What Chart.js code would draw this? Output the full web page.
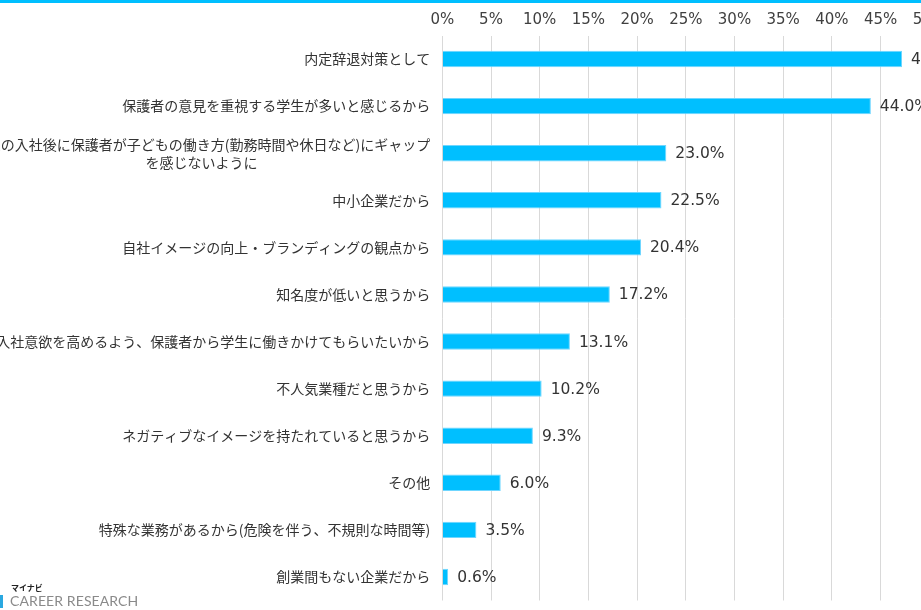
<!DOCTYPE html>
<html><head><meta charset="utf-8">
<script src="https://cdn.jsdelivr.net/npm/chart.js@4"></script>
<style>
html,body{margin:0;padding:0;width:921px;height:610px;overflow:hidden;background:#fff;position:relative;}
#topline{position:absolute;left:0;top:0;width:921px;height:3px;background:#00BFFF;}
#wrap{position:absolute;left:-130px;top:0;width:1100px;height:610px;}
#logo{position:absolute;left:0;top:583px;width:150px;height:27px;}
#logo .mn{position:absolute;left:11px;top:0;font:bold 8px "Noto Sans CJK JP";color:#222;line-height:10px;}
#logo .cr{position:absolute;left:10px;top:10px;font:14px "Lato";color:#8a8a8a;line-height:16px;letter-spacing:0.1px;}
#logo .ic{position:absolute;left:0;top:12px;width:3px;height:13px;background:#2aa8e0;}
</style></head>
<body>
<div id="topline"></div>
<div id="wrap"><canvas id="c" width="1100" height="610"></canvas></div>
<div id="logo"><div class="mn">マイナビ</div><div class="ic"></div><div class="cr">CAREER RESEARCH</div></div>
<script>
const categories = [
  "内定辞退対策として",
  "保護者の意見を重視する学生が多いと感じるから",
  ["学生の入社後に保護者が子どもの働き方(勤務時間や休日など)にギャップ","を感じないように"],
  "中小企業だから",
  "自社イメージの向上・ブランディングの観点から",
  "知名度が低いと思うから",
  "学生の入社意欲を高めるよう、保護者から学生に働きかけてもらいたいから",
  "不人気業種だと思うから",
  "ネガティブなイメージを持たれていると思うから",
  "その他",
  "特殊な業務があるから(危険を伴う、不規則な時間等)",
  "創業間もない企業だから"
];
const values = [47.2, 44.0, 23.0, 22.5, 20.4, 17.2, 13.1, 10.2, 9.3, 6.0, 3.5, 0.6];
const xTicks = [0,5,10,15,20,25,30,35,40,45,50];

const labelPlugin = {
  id: 'labels',
  afterDatasetsDraw(chart) {
    const ctx = chart.ctx;
    const meta = chart.getDatasetMeta(0);
    ctx.save();
    ctx.font = '15.5px "DejaVu Sans"';
    ctx.fillStyle = '#333333';
    ctx.textAlign = 'left';
    ctx.textBaseline = 'middle';
    meta.data.forEach((bar, i) => {
      ctx.fillText(values[i].toFixed(1) + '%', bar.x + 9, bar.y + 1);
    });
    const yScale = chart.scales.y;
    const right = chart.chartArea.left - 12;
    ctx.font = '14px "Noto Sans CJK JP"';
    ctx.fillStyle = '#333333';
    categories.forEach((lab, i) => {
      const y = yScale.getPixelForValue(i);
      if (Array.isArray(lab)) {
        const widths = lab.map(l => ctx.measureText(l).width);
        const maxW = Math.max(...widths);
        const cx = right - maxW / 2;
        ctx.textAlign = 'center';
        const lh = 18;
        const start = y - (lab.length - 1) * lh / 2;
        lab.forEach((l, j) => ctx.fillText(l, cx, start + j * lh));
      } else {
        ctx.textAlign = 'right';
        ctx.fillText(lab, right, y);
      }
    });
    ctx.restore();
  }
};

new Chart(document.getElementById('c'), {
  type: 'bar',
  data: {
    labels: categories.map((c, i) => i),
    datasets: [{
      data: values,
      backgroundColor: '#00BFFF',
      borderColor: '#6fd6ff',
      borderWidth: 1,
      barPercentage: 0.35,
      categoryPercentage: 1
    }]
  },
  options: {
    indexAxis: 'y',
    responsive: false,
    animation: false,
    layout: { padding: { left: 0, right: 40.7, top: 5.5, bottom: 9.5 } },
    plugins: { legend: { display: false }, tooltip: { enabled: false } },
    scales: {
      x: {
        position: 'top',
        min: 0, max: 50,
        afterBuildTicks(s) { s.ticks = xTicks.map(v => ({ value: v })); },
        ticks: {
          callback: v => v + '%',
          font: { family: 'DejaVu Sans', size: 15 },
          color: '#404040',
          padding: 6,
          maxRotation: 0
        },
        grid: { color: '#d9d9d9', lineWidth: 1, drawTicks: false },
        border: { display: false }
      },
      y: {
        ticks: { display: false },
        grid: { display: false },
        border: { display: false },
        afterFit(s) { s.width = 572.3; }
      }
    }
  },
  plugins: [labelPlugin]
});
</script>
</body></html>
